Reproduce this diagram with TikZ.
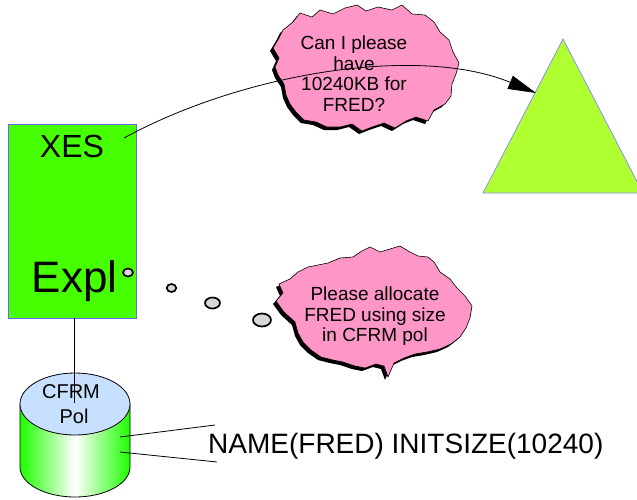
\documentclass[tikz,border=0pt]{standalone}
\usepackage{fontspec}
\setmainfont{Liberation Sans}
\usetikzlibrary{arrows.meta}
\definecolor{boxgreen}{RGB}{70,255,0}
\definecolor{trigreen}{RGB}{176,255,48}
\definecolor{edgeblue}{RGB}{110,100,245}
\definecolor{triedge}{RGB}{140,140,255}
\definecolor{cloudpink}{RGB}{255,150,200}
\definecolor{bubgray}{RGB}{215,215,215}
\definecolor{cyltop}{RGB}{200,224,255}
\definecolor{cylgreen}{RGB}{30,255,0}
\newcommand\cloudApath[1]{\path[#1] (293,22) -- (300,13) -- (312,17) -- (320,10) -- (333,14) -- (345,8) -- (357,5) -- (366,11) -- (378,7) -- (392,10) -- (402,5) -- (412,14) -- (425,15) -- (434,22) -- (440,32) -- (449,40) -- (453,52) -- (459,63) -- (456,74) -- (452,84) -- (451,96) -- (445,104) -- (434,110) -- (428,121) -- (416,117) -- (406,121) -- (395,128) -- (384,123) -- (372,127) -- (362,131) -- (352,124) -- (340,127) -- (327,127) -- (316,122) -- (304,120) -- (296,112) -- (290,104) -- (286,95) -- (284,84) -- (278,75) -- (275,67) -- (279,58) -- (273,48) -- (279,38) -- (283,30) -- cycle;}
\newcommand\cloudBpath[1]{\path[#1] (340,258) -- (353,257) -- (362,251) -- (370,247) -- (380,252) -- (390,249) -- (400,246) -- (410,252) -- (418,256) -- (428,257) -- (434,262) -- (440,272) -- (450,279) -- (457,288) -- (465,296) -- (472,306) -- (470,318) -- (466,328) -- (460,337) -- (451,344) -- (440,349) -- (427,352) -- (415,354) -- (404,358) -- (394,363) -- (388,377) -- (384,366) -- (376,364) -- (365,368) -- (355,366) -- (343,362) -- (333,360) -- (321,357) -- (311,350) -- (303,342) -- (298,333) -- (295,322) -- (284,312) -- (276,301) -- (283,293) -- (279,284) -- (290,279) -- (298,272) -- (308,267) -- (318,265) -- (328,263) -- cycle;}
\tikzset{
  cloudtext/.style={align=center, font=\fontsize{19}{20.5}\selectfont, inner sep=0pt},
  bubble/.style={draw=black, fill=bubgray, line width=1.7pt},
  conn/.style={draw=black, line width=0.8pt},
}
\begin{document}
\begin{tikzpicture}[x=1pt,y=-1pt]
\useasboundingbox (0,0) rectangle (637,499);
% triangle
\coordinate (apex) at (563,39);
\coordinate (tl) at (483,193);
\coordinate (tr) at (643,193);
\coordinate (tip) at (536,93);
\filldraw[fill=trigreen, draw=triedge, line width=0.8pt] (apex) -- (tl) -- (tr) -- cycle;
% XES box
\node[draw=edgeblue, fill=boxgreen, line width=0.9pt, minimum width=128pt, minimum height=194pt, inner sep=0pt] (xes) at (72.5,221) {};
\node[anchor=base, font=\fontsize{32}{32}\selectfont, inner sep=0pt] (xeslabel) at (72,157) {XES};
\node[anchor=base, font=\fontsize{44}{44}\selectfont, inner sep=0pt] (expl) at (74.5,292) {Expl};
% clouds
\cloudApath{fill=black, shift={(-3,3)}}
\cloudApath{fill=cloudpink, draw=black, line width=0.6pt}
\node[cloudtext] (q1) at (354,73.5) {Can I please\\have\\10240KB for\\FRED?};
\cloudBpath{fill=black, shift={(-3,3)}}
\cloudBpath{fill=cloudpink, draw=black, line width=0.6pt}
\node[cloudtext] (q2) at (375,316.5) {Please allocate\\FRED using size\\in CFRM pol};
% bubbles
\path[bubble] (128,272.5) ellipse [x radius=5pt, y radius=4pt];
\path[bubble] (171.5,288) ellipse [x radius=4.7pt, y radius=4pt];
\path[bubble] (212.5,303) ellipse [x radius=7.5pt, y radius=5.5pt];
\path[bubble] (262,320) ellipse [x radius=9pt, y radius=6.5pt];
% request arrow
\coordinate (start) at (124,138);
\draw[conn, -{Triangle[length=28pt,width=14pt]}] (start) .. controls (245,72) and (420,45) .. (tip);
% cylinder
\shade[left color=cylgreen, right color=cylgreen, middle color=white]
  (20,404) -- (20,467) arc[start angle=180, end angle=360, x radius=55pt, y radius=30pt] -- (130,404) -- cycle;
\draw[black, line width=0.8pt] (20,404) -- (20,467) arc[start angle=180, end angle=360, x radius=55pt, y radius=30pt] -- (130,404);
\filldraw[fill=cyltop, draw=black, line width=0.8pt] (75,404) ellipse [x radius=55pt, y radius=31pt];
\node[anchor=base, font=\fontsize{20}{20}\selectfont, inner sep=0pt] (cfrm) at (71,398) {CFRM};
\node[anchor=base, font=\fontsize{20}{20}\selectfont, inner sep=0pt] (pol) at (74,423) {Pol};
\coordinate (cylin) at (74.5,403);
\draw[conn] (xes.south -| cylin) -- (cylin);
% policy text
\node[anchor=base west, font=\fontsize{28}{28}\selectfont, inner sep=0pt] (policy) at (208,453) {NAME(FRED) INITSIZE(10240)};
\coordinate (c1) at (120,437);
\coordinate (c2) at (120,452);
\coordinate (p1) at (215,425);
\coordinate (p2) at (217,462);
\draw[conn] (c1) -- (p1);
\draw[conn] (c2) -- (p2);
\end{tikzpicture}
\end{document}
